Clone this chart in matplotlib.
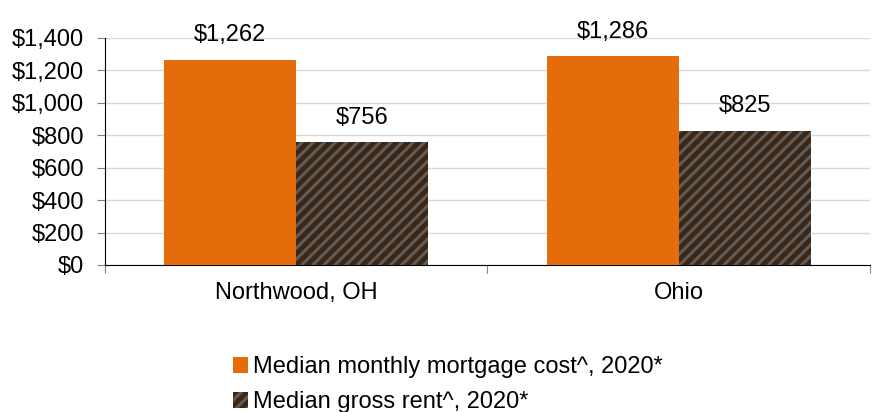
import matplotlib.pyplot as plt
import numpy as np

plt.rcParams['font.family'] = ['Liberation Sans', 'DejaVu Sans']
plt.rcParams['hatch.linewidth'] = 2.2
plt.rcParams['hatch.color'] = '#5c5c5c'

places = ["Northwood, OH", "Ohio"]
mortgage = [1262, 1286]
rent = [756, 825]
series_names = ["Median monthly mortgage cost^, 2020*", "Median gross rent^, 2020*"]

fig = plt.figure(figsize=(8.77, 4.12), dpi=100)
ax = fig.add_axes([0.1197, 0.3568, 0.8723, 0.551])

x = np.arange(len(places))
w = 0.345
b1 = ax.bar(x - w / 2, mortgage, w, color='#e46c0a', label=series_names[0], zorder=3)
b2 = ax.bar(x + w / 2, rent, w, color='#3d2714', hatch='///', edgecolor='#5c5c5c',
            linewidth=0, label=series_names[1], zorder=3)

for bars in (b1, b2):
    for b in bars:
        ax.annotate("${:,.0f}".format(b.get_height()),
                    (b.get_x() + b.get_width() / 2, b.get_height()),
                    xytext=(0, 10), textcoords='offset points',
                    ha='center', va='bottom', fontsize=17)

ax.set_xlim(-0.5, 1.5)
ax.set_ylim(0, 1400)
ax.set_yticks(range(0, 1401, 200))
ax.set_yticklabels(["${:,}".format(v) for v in range(0, 1401, 200)], fontsize=17)
ax.yaxis.grid(True, color='#d9d9d9', linewidth=1, zorder=0)
ax.set_axisbelow(True)

ax.set_xticks([-0.5, 0.5, 1.5])
ax.set_xticklabels([])
ax.set_xticks(x, minor=True)
ax.set_xticklabels(places, minor=True, fontsize=17)
ax.tick_params(axis='x', which='minor', length=0, pad=12)
ax.tick_params(axis='x', which='major', length=6, color='#808080')
ax.tick_params(axis='y', length=6, color='#808080', pad=9)

for s in ['top', 'right']:
    ax.spines[s].set_visible(False)
ax.spines['left'].set_color('#000000')
ax.spines['bottom'].set_color('#000000')

fig.legend(handles=[b1, b2], loc='upper left', bbox_to_anchor=(0.266, 0.135),
           frameon=False, fontsize=17, handlelength=0.62, handleheight=0.62,
           handletextpad=0.22, labelspacing=0.55, borderpad=0, borderaxespad=0)

fig.savefig("out.png", dpi=100)
